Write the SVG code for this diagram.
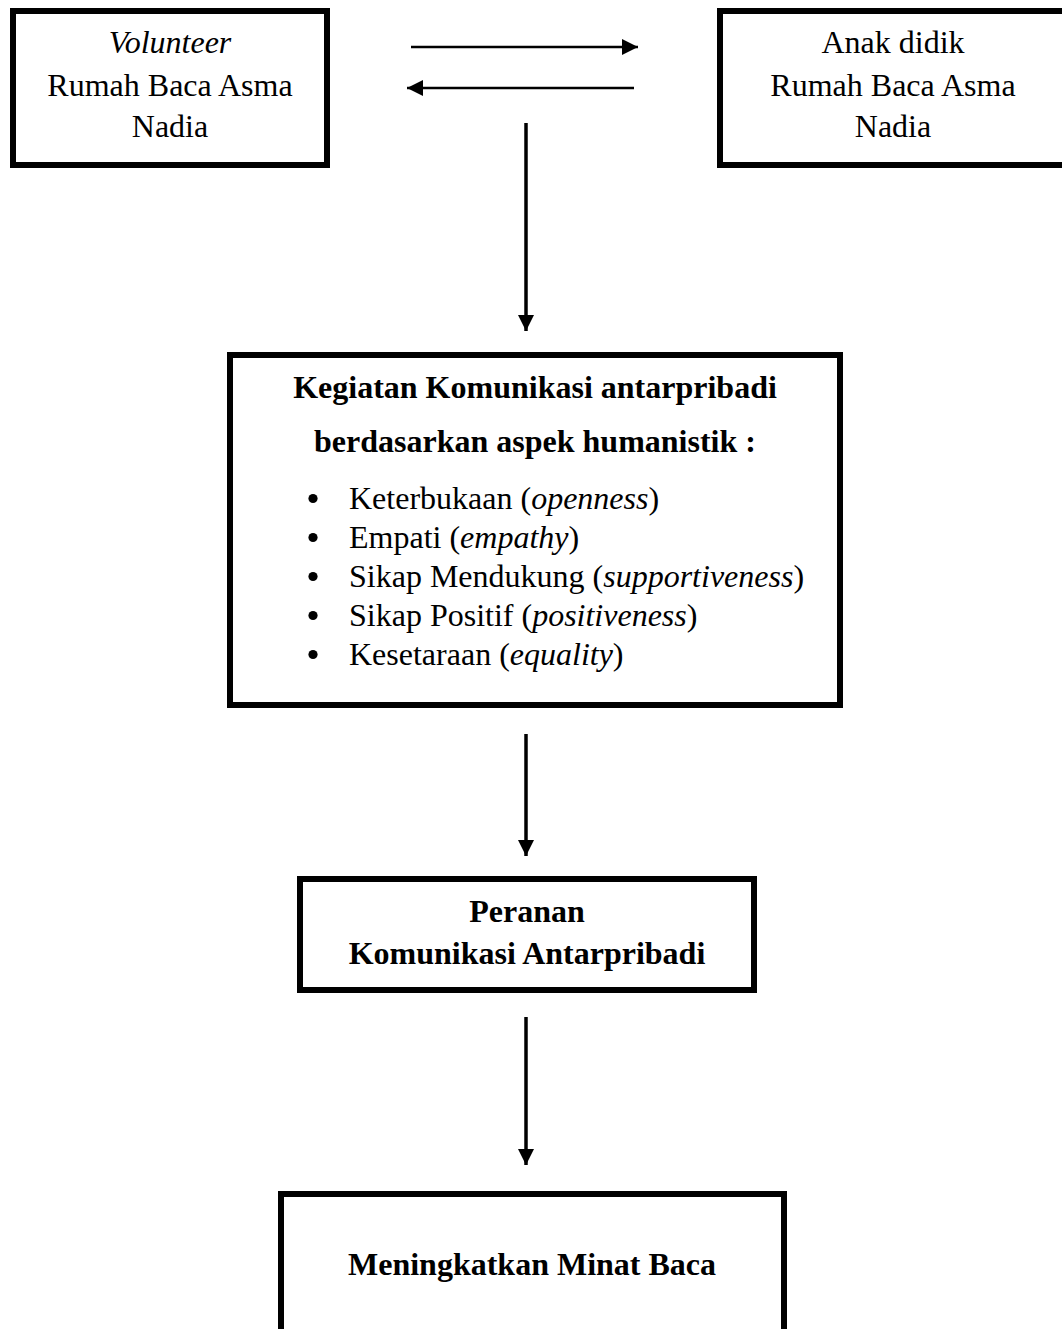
<svg xmlns="http://www.w3.org/2000/svg" width="1062" height="1329" viewBox="0 0 1062 1329">
<style>
.box{fill:#fff;stroke:#000;stroke-width:6}
.t{font-family:"Liberation Serif","Times New Roman",serif;font-size:32px;fill:#000}
.bullet{fill:#000}
.c{text-anchor:middle}
.b{font-weight:bold}
.i{font-style:italic}
.conn{stroke:#000;fill:none}
</style>
<defs>
<marker id="ah" markerUnits="userSpaceOnUse" markerWidth="17" markerHeight="17" refX="16" refY="8.5" orient="auto">
<path d="M0,0.5 L16,8.5 L0,16.5 Z" fill="#000"/>
</marker>
</defs>
<rect width="1062" height="1329" fill="#fff"/>
<g id="volunteer">
<rect class="box" x="13" y="11" width="314" height="154"/>
<text class="t c i" x="170" y="53">Volunteer</text>
<text class="t c" x="170" y="96">Rumah Baca Asma</text>
<text class="t c" x="170" y="137">Nadia</text>
</g>
<g id="anak-didik">
<rect class="box" x="720" y="11" width="350" height="154"/>
<text class="t c" x="893" y="53">Anak didik</text>
<text class="t c" x="893" y="96">Rumah Baca Asma</text>
<text class="t c" x="893" y="137">Nadia</text>
</g>
<g id="kegiatan">
<rect class="box" x="230" y="355" width="610" height="350"/>
<text class="t c b" x="535" y="398">Kegiatan Komunikasi antarpribadi</text>
<text class="t c b" x="535" y="452">berdasarkan aspek humanistik :</text>
<circle class="bullet" cx="313" cy="498.5" r="4.6"/>
<text class="t" x="349" y="509">Keterbukaan (<tspan class="i">openness</tspan>)</text>
<circle class="bullet" cx="313" cy="537.5" r="4.6"/>
<text class="t" x="349" y="548">Empati (<tspan class="i">empathy</tspan>)</text>
<circle class="bullet" cx="313" cy="576.5" r="4.6"/>
<text class="t" x="349" y="587">Sikap Mendukung (<tspan class="i">supportiveness</tspan>)</text>
<circle class="bullet" cx="313" cy="615.5" r="4.6"/>
<text class="t" x="349" y="626">Sikap Positif (<tspan class="i">positiveness</tspan>)</text>
<circle class="bullet" cx="313" cy="654.5" r="4.6"/>
<text class="t" x="349" y="665">Kesetaraan (<tspan class="i">equality</tspan>)</text>
</g>
<g id="peranan">
<rect class="box" x="300" y="879" width="454" height="111"/>
<text class="t c b" x="527" y="922">Peranan</text>
<text class="t c b" x="527" y="964">Komunikasi Antarpribadi</text>
</g>
<g id="minat-baca">
<rect class="box" x="281" y="1194" width="503" height="160"/>
<text class="t c b" x="532" y="1275">Meningkatkan Minat Baca</text>
</g>
<g id="connectors">
<line class="conn" x1="411" y1="47" x2="638" y2="47" stroke-width="2.5" marker-end="url(#ah)"/>
<line class="conn" x1="634" y1="88" x2="407" y2="88" stroke-width="2.5" marker-end="url(#ah)"/>
<line class="conn" x1="526" y1="123" x2="526" y2="331" stroke-width="3.5" marker-end="url(#ah)"/>
<line class="conn" x1="526" y1="734" x2="526" y2="856" stroke-width="3.5" marker-end="url(#ah)"/>
<line class="conn" x1="526" y1="1017" x2="526" y2="1165" stroke-width="3.5" marker-end="url(#ah)"/>
</g>
</svg>
